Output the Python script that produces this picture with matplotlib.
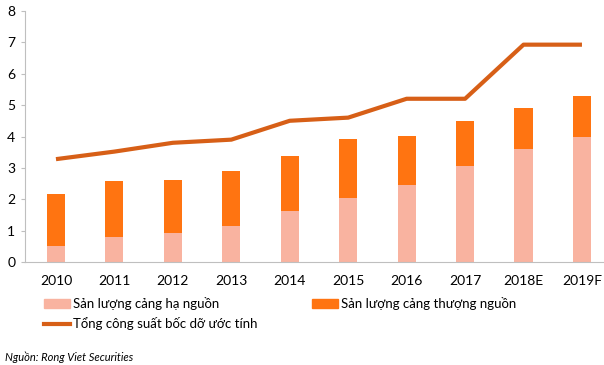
import matplotlib
matplotlib.use("Agg")
import matplotlib.pyplot as plt
from matplotlib.patches import Patch
from matplotlib.lines import Line2D
import numpy as np

years = ["2010", "2011", "2012", "2013", "2014", "2015", "2016", "2017", "2018E", "2019F"]
ha_nguon = [0.52, 0.81, 0.94, 1.16, 1.64, 2.05, 2.47, 3.07, 3.61, 3.99]
thuong_nguon = [1.65, 1.77, 1.68, 1.74, 1.74, 1.87, 1.55, 1.42, 1.30, 1.30]
tong_cong_suat = [3.28, 3.52, 3.80, 3.90, 4.50, 4.60, 5.20, 5.20, 6.92, 6.92]
y_ticks = [0, 1, 2, 3, 4, 5, 6, 7, 8]

plt.rcParams['font.family'] = ['Lato', 'DejaVu Sans']

W, H = 604, 365
fig = plt.figure(figsize=(W / 100, H / 100), dpi=100)
ax = fig.add_axes([25 / W, (H - 262.3) / H, (W - 25) / W, 251.6 / H])

x = np.arange(len(years))
c_ha = "#F9B3A0"
c_th = "#FF7411"
c_line = "#D75F17"
bw = 0.31
ax.bar(x, ha_nguon, width=bw, color=c_ha, zorder=2)
ax.bar(x, thuong_nguon, width=bw, bottom=ha_nguon, color=c_th, zorder=2)
ax.plot(x, tong_cong_suat, color=c_line, lw=3.0, solid_capstyle='butt', zorder=3)

ax.set_xlim(-0.53, 9.377)
ax.set_ylim(0, 8)
ax.set_yticks(y_ticks)
ax.set_xticks(x)
ax.set_xticklabels(years)
for s in ['top', 'right']:
    ax.spines[s].set_visible(False)
for s in ['left', 'bottom']:
    ax.spines[s].set_color('#BFBFBF')
    ax.spines[s].set_linewidth(0.8)
ax.tick_params(axis='y', length=3, color='#BFBFBF', pad=4, labelsize=10)
ax.tick_params(axis='x', length=0, pad=9, labelsize=10)

def px(xp, yp):
    return (xp / W, 1 - yp / H)

common = dict(frameon=False, fontsize=9.5, handlelength=2.0, handleheight=0.6,
              handletextpad=0.2, borderpad=0, borderaxespad=0, labelspacing=0.55)
leg1 = fig.legend(handles=[Patch(color=c_ha), Line2D([], [], color=c_line, lw=3)],
                  labels=["Sản lượng cảng hạ nguồn", "Tổng công suất bốc dỡ ước tính"],
                  loc='upper left', bbox_to_anchor=px(44, 297), **common)
leg2 = fig.legend(handles=[Patch(color=c_th)], labels=["Sản lượng cảng thượng nguồn"],
                  loc='upper left', bbox_to_anchor=px(312, 297), **common)

fig.text(5 / W, 1 - 357 / H, "Nguồn: Rong Viet Securities", fontsize=8, style='italic',
         family=['Lato', 'DejaVu Sans'], va='center', ha='left')

fig.savefig("out.png", dpi=100)
